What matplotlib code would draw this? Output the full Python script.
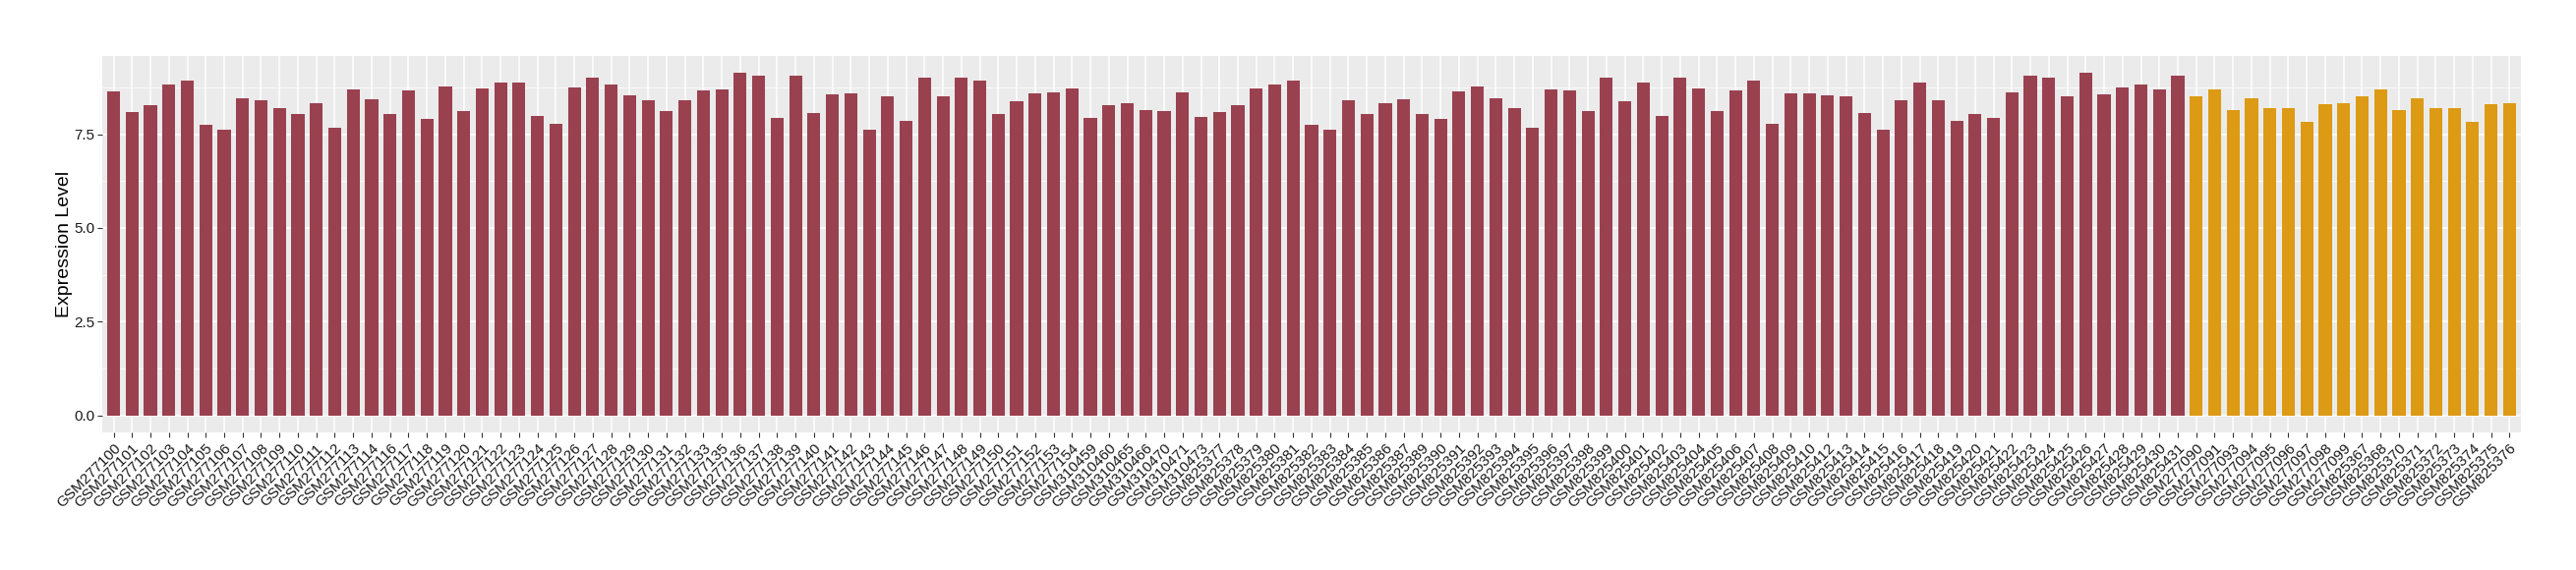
"""Bar chart of expression level per GSM sample."""
import matplotlib
matplotlib.use('Agg')
import matplotlib.pyplot as plt
from matplotlib.ticker import MultipleLocator

plt.rcParams['font.family'] = ['Liberation Sans', 'DejaVu Sans']

# sample ids, in plotting order
group_a_samples = (
    [f'GSM2771{n:02d}' for n in range(0, 55) if n not in (15, 34)]
    + ['GSM310459', 'GSM310460', 'GSM310465', 'GSM310466',
       'GSM310470', 'GSM310471', 'GSM310473']
    + [f'GSM825{n}' for n in range(377, 432) if n not in (388, 411)]
)
group_b_samples = (
    ['GSM277090', 'GSM277091', 'GSM277093', 'GSM277094', 'GSM277095',
     'GSM277096', 'GSM277097', 'GSM277098', 'GSM277099']
    + ['GSM825367', 'GSM825368', 'GSM825370', 'GSM825371', 'GSM825372',
       'GSM825373', 'GSM825374', 'GSM825375', 'GSM825376']
)

# expression values
group_a_values = [
    8.65, 8.09, 8.28, 8.83, 8.93, 7.75, 7.62, 8.46, 8.41, 8.20,
    8.04, 8.33, 7.67, 8.70, 8.44, 8.04, 8.67, 7.91, 8.78, 8.12,
    8.72, 8.88, 8.88, 7.99, 7.78, 8.75, 9.01, 8.83, 8.54, 8.41,
    8.12, 8.41, 8.67, 8.70, 9.14, 9.06, 7.94, 9.06, 8.07, 8.57,
    8.59, 7.62, 8.51, 7.86, 9.01, 8.51, 9.01, 8.93, 8.04, 8.38,
    8.59, 8.62, 8.72, 7.94, 8.28, 8.33, 8.15, 8.12, 8.62, 7.96,
    8.09, 8.28, 8.72, 8.83, 8.93, 7.75, 7.62, 8.41, 8.04, 8.33,
    8.44, 8.04, 7.91, 8.65, 8.78, 8.46, 8.20, 7.67, 8.70, 8.67,
    8.12, 9.01, 8.38, 8.88, 7.99, 9.01, 8.72, 8.12, 8.67, 8.93,
    7.78, 8.59, 8.59, 8.54, 8.51, 8.07, 7.62, 8.41, 8.88, 8.41,
    7.86, 8.04, 7.94, 8.62, 9.06, 9.01, 8.51, 9.14, 8.57, 8.75,
    8.83, 8.70, 9.06,
]
group_b_values = [
    8.51, 8.70, 8.15, 8.46, 8.20, 8.20, 7.83, 8.30, 8.33,
    8.51, 8.70, 8.15, 8.46, 8.20, 8.20, 7.83, 8.30, 8.33,
]

samples = group_a_samples + group_b_samples
values = group_a_values + group_b_values
colors = ['#9A4150'] * len(group_a_values) + ['#DC9A15'] * len(group_b_values)
positions = list(range(len(samples)))

fig = plt.figure(figsize=(26.2, 5.8), dpi=100)
ax = fig.add_axes([0.0398, 0.2414, 0.9387, 0.6608])
ax.set_facecolor('#EBEBEB')

ax.bar(positions, values, width=0.7, color=colors, zorder=3)

# ggplot-like expansion
top = max(values)
ax.set_ylim(-0.05 * top, 1.05 * top)
ax.set_xlim(-0.6, len(samples) - 0.4)

ax.yaxis.set_major_locator(MultipleLocator(2.5))
ax.yaxis.set_minor_locator(MultipleLocator(1.25))
ax.yaxis.set_major_formatter(matplotlib.ticker.FormatStrFormatter('%.1f'))
ax.set_xticks(positions)
ax.set_xticklabels(samples, rotation=45, ha='right', va='top',
                   rotation_mode='anchor', fontsize=12, color='#1A1A1A')

ax.grid(which='major', color='white', linewidth=1.1, zorder=0)
ax.grid(which='minor', axis='y', color='white', linewidth=0.55, zorder=0)
ax.tick_params(axis='both', which='major', length=3.5, width=0.8,
               color='#333333', labelsize=11, labelcolor='#1A1A1A', pad=2)
ax.tick_params(axis='x', pad=3)
ax.tick_params(which='minor', length=0)
for spine in ax.spines.values():
    spine.set_visible(False)

ax.set_ylabel('Expression Level', fontsize=14, color='black', labelpad=1)

fig.savefig('out.png', dpi=100)
plt.close()
